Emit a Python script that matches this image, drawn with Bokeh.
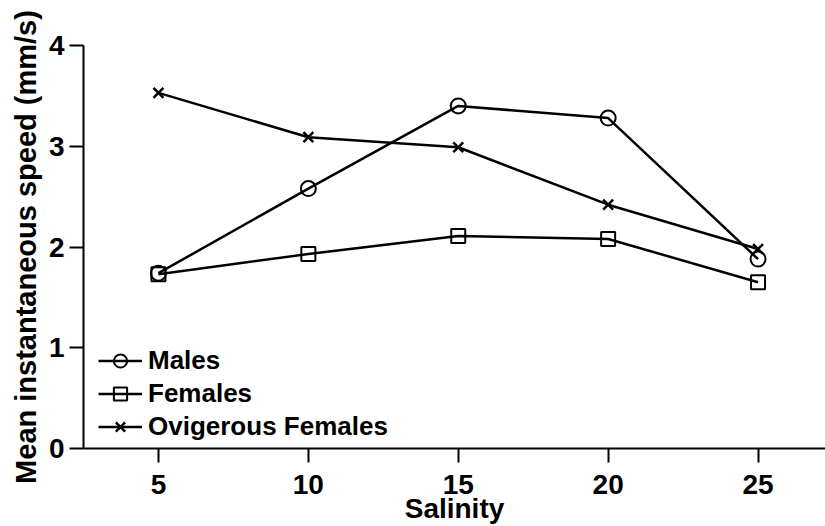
from bokeh.plotting import figure
from bokeh.models import Range1d, FixedTicker, Legend, LegendItem
from bokeh.embed import file_html
from bokeh.resources import INLINE

# Mean instantaneous speed (mm/s) by salinity
salinity = [5, 10, 15, 20, 25]
males = [1.74, 2.58, 3.40, 3.28, 1.88]
females = [1.73, 1.93, 2.11, 2.08, 1.65]
ovigerous = [3.53, 3.09, 2.99, 2.42, 1.98]
series_names = ["Males", "Females", "Ovigerous Females"]
y_ticks = [0, 1, 2, 3, 4]

FONT = "Liberation Sans"

p = figure(width=825, height=526, output_backend="svg", toolbar_location=None,
           x_range=Range1d(2.5, 27.25), y_range=Range1d(0, 4),
           min_border_left=83, min_border_right=0, min_border_top=45,
           min_border_bottom=78)
p.outline_line_color = None
p.grid.visible = False
p.background_fill_color = "white"
p.border_fill_color = "white"

for ax in (p.xaxis[0], p.yaxis[0]):
    ax.axis_line_width = 2
    ax.major_tick_line_width = 2
    ax.major_tick_in = 0
    ax.major_tick_out = 14
    ax.minor_tick_in = 0
    ax.minor_tick_out = 0
    ax.major_label_text_font = FONT
    ax.major_label_text_font_style = "bold"
    ax.major_label_text_font_size = "28px"
    ax.major_label_text_color = "black"
    ax.axis_label_text_font = FONT
    ax.axis_label_text_font_style = "bold"
    ax.axis_label_text_color = "black"
    ax.axis_line_color = "black"
    ax.major_tick_line_color = "black"

p.xaxis.ticker = FixedTicker(ticks=salinity)
p.yaxis.ticker = FixedTicker(ticks=y_ticks)
p.xaxis.axis_label = "Salinity"
p.yaxis.axis_label = "Mean instantaneous speed (mm/s)"
p.xaxis.axis_label_text_font_size = "28px"
p.yaxis.axis_label_text_font_size = "29px"
p.xaxis.major_label_standoff = 12
p.xaxis.axis_label_standoff = -4
p.yaxis.major_label_standoff = 5
p.yaxis.axis_label_standoff = 4

LW = 2.5

l1 = p.line(salinity, females, line_color="black", line_width=LW)
m1 = p.scatter(salinity, females, marker="square", size=14, fill_alpha=0,
               line_color="black", line_width=2)

l0 = p.line(salinity, males, line_color="black", line_width=LW)
m0 = p.scatter(salinity, males, marker="circle", size=15, fill_alpha=0,
               line_color="black", line_width=2)

l2 = p.line(salinity, ovigerous, line_color="black", line_width=LW)
m2 = p.scatter(salinity, ovigerous, marker="x", size=14,
               line_color="black", line_width=2.5)

items = [
    LegendItem(label=series_names[0], renderers=[l0, m0]),
    LegendItem(label=series_names[1], renderers=[l1, m1]),
    LegendItem(label=series_names[2], renderers=[l2, m2]),
]
legend = Legend(items=items, location=(15, 5), padding=0, margin=0,
                spacing=0, glyph_width=44, glyph_height=33, label_height=33,
                label_standoff=6, border_line_alpha=0,
                background_fill_alpha=0,
                label_text_font=FONT, label_text_font_style="bold",
                label_text_font_size="26px", label_text_color="black")
p.add_layout(legend, "center")

open("out.html", "w").write(file_html(p, INLINE))
